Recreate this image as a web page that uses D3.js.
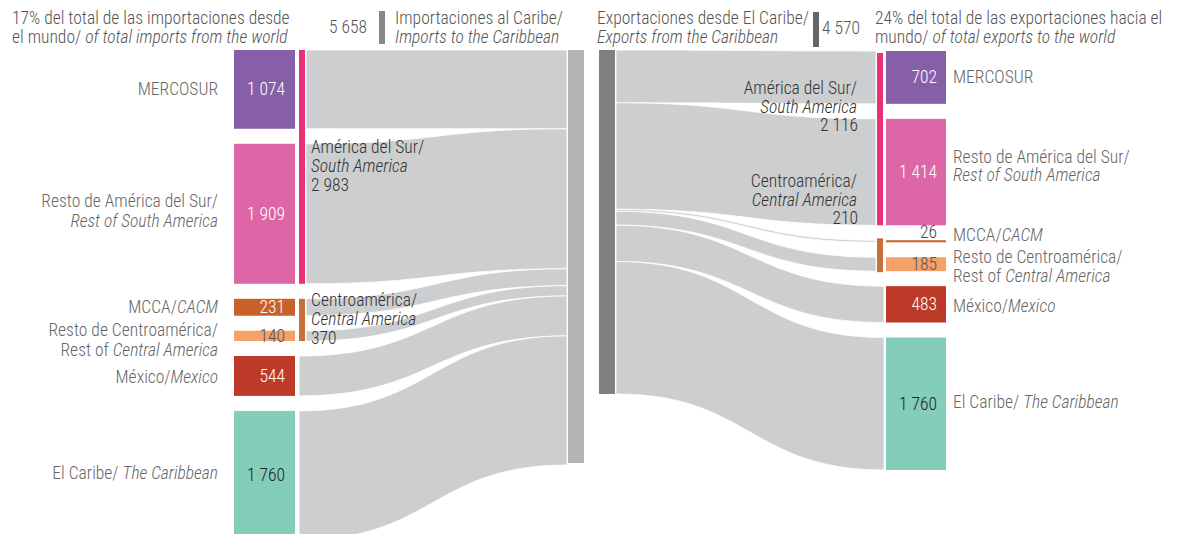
<!DOCTYPE html>
<html>
<head>
<meta charset="utf-8">
<script src="https://cdn.jsdelivr.net/npm/d3@7"></script>
<style>
  html, body { margin: 0; padding: 0; background: #fff; }
  svg { display: block; }
  text { font-family: "Roboto Condensed", "Liberation Sans Narrow", "Arial Narrow", Roboto, sans-serif; font-weight: 300; }
</style>
</head>
<body>
<svg id="chart" width="1180" height="534"></svg>
<script>
// ---------------- DATA ----------------
const categories = ["MERCOSUR", "Resto de América del Sur", "MCCA", "Resto de Centroamérica", "México", "El Caribe"];
const importValues = [1074, 1909, 231, 140, 544, 1760];
const exportValues = [702, 1414, 26, 185, 483, 1760];
const categoryGroup = [0, 0, 1, 1, null, null];
const groupNames = ["América del Sur", "Centroamérica"];
const importGroupTotals = [2983, 370];
const exportGroupTotals = [2116, 210];
const importTotal = 5658;
const exportTotal = 4570;

// label lines (segments: [text, italic])
const categoryLabels = [
  [[["MERCOSUR", false]]],
  [[["Resto de América del Sur/", false]], [["Rest of South America", true]]],
  [[["MCCA/", false], ["CACM", true]]],
  [[["Resto de Centroamérica/", false]], [["Rest of ", false], ["Central America", true]]],
  [[["México/", false], ["Mexico", true]]],
  [[["El Caribe/ ", false], ["The Caribbean", true]]]
];
const groupLabels = [
  [["América del Sur/", false], ["South America", true]],
  [["Centroamérica/", false], ["Central America", true]]
];

// ---------------- STYLE ----------------
const nodeColors = ["#875ea8", "#dd67a6", "#c9612a", "#f6a06a", "#bd3a28", "#84cdb8"];
const groupColors = ["#e8317a", "#c8703a"];
const importValueColors = ["#fff", "#fff", "#fff", "#555", "#fff", "#222"];
const exportValueColors = ["#fff", "#fff", "#444", "#555", "#fff", "#222"];
const linkColor = "#cdcecf";
const labelColor = "#666";
const headColor = "#555";
const groupTextColor = "#333";
const FS = 17.5;
// label placement relative to node centre: [first-line offset, line spacing]
const impLabelPos = [[0, 20], [-13, 20], [0, 20], [-6, 20], [1, 20], [-2, 20]];
const expLabelPos = [[0, 18], [-15, 18], [-6, 19], [-7, 19], [2, 19], [-2, 19]];

const fmt = d3.formatLocale({decimal: ",", thousands: " ", grouping: [3], currency: ["", ""]}).format(",d");

const svg = d3.select("#chart");
const gap = 15;
const topY = 50;

const yImp = d3.scaleLinear().domain([0, importTotal]).range([0, 415]);
const yExp = d3.scaleLinear().domain([0, exportTotal]).range([0, 344]);

function layout(values, scale, start) {
  let y = start;
  return values.map((v, i) => {
    const h = scale(v);
    const n = {y0: y, y1: y + h, v, i};
    y += h + gap;
    return n;
  });
}
const impNodes = layout(importValues, yImp, topY);
const expNodes = layout(exportValues, yExp, topY + 1);

function band(x0, a0, b0, x1, a1, b1) {
  const xm = (x0 + x1) / 2;
  return `M${x0},${a0}C${xm},${a0} ${xm},${a1} ${x1},${a1}L${x1},${b1}C${xm},${b1} ${xm},${b0} ${x0},${b0}Z`;
}

function addText(parent, x, y, segs, opts) {
  const t = parent.append("text")
    .attr("x", x).attr("y", y)
    .attr("text-anchor", opts.anchor || "start")
    .attr("font-size", opts.size || FS)
    .attr("fill", opts.color || labelColor);
  segs.forEach(([s, it]) => {
    t.append("tspan").attr("font-style", it ? "italic" : "normal").text(s);
  });
  return t;
}

// ---------------- IMPORT SIDE ----------------
const impNodeX = 234, impNodeW = 61;
const impGroupX = 299, groupW = 6;
const impBarX = 568, impBarW = 16;

let acc = topY;
const gImpLinks = svg.append("g");
impNodes.forEach((n, i) => {
  const h = n.y1 - n.y0;
  const x0 = categoryGroup[i] === null ? impGroupX : impGroupX + groupW + 1;
  gImpLinks.append("path")
    .attr("d", band(x0, n.y0, n.y1, impBarX - 1, acc, acc + h))
    .attr("fill", linkColor).attr("stroke", "#fff").attr("stroke-width", 0.8);
  acc += h;
});

svg.append("rect").attr("x", impBarX).attr("y", topY).attr("width", impBarW)
  .attr("height", yImp(importTotal) - 2).attr("fill", "#b5b5b5");

impNodes.forEach((n, i) => {
  svg.append("rect").attr("x", impNodeX).attr("y", n.y0).attr("width", impNodeW)
    .attr("height", n.y1 - n.y0).attr("fill", nodeColors[i]);
  const cy = (n.y0 + n.y1) / 2;
  addText(svg, 285, cy + 6, [[fmt(importValues[i]), false]], {anchor: "end", color: importValueColors[i]});
  const [off, sp] = impLabelPos[i];
  categoryLabels[i].forEach((ln, k) => {
    addText(svg, 218, cy + off + 6 + k * sp, ln, {anchor: "end", color: labelColor});
  });
});

[0, 1].forEach(g => {
  const members = impNodes.filter((n, i) => categoryGroup[i] === g);
  const y0 = d3.min(members, d => d.y0), y1 = d3.max(members, d => d.y1);
  svg.append("rect").attr("x", impGroupX).attr("y", y0).attr("width", groupW)
    .attr("height", y1 - y0).attr("fill", groupColors[g]);
  const by = g === 0 ? y0 + 103 : y0 + 7;
  addText(svg, 311, by, [groupLabels[g][0]], {color: groupTextColor});
  addText(svg, 311, by + 19, [groupLabels[g][1]], {color: groupTextColor});
  addText(svg, 311, by + 38, [[fmt(importGroupTotals[g]), false]], {color: groupTextColor});
});

// ---------------- EXPORT SIDE ----------------
const expBarX = 599, expBarW = 16;
const expGroupX = 877;
const expNodeX = 886, expNodeW = 60;

acc = topY;
const gExpLinks = svg.append("g");
expNodes.forEach((n, i) => {
  const h = n.y1 - n.y0;
  const x1 = categoryGroup[i] === null ? expNodeX - 2 : expGroupX - 1;
  gExpLinks.append("path")
    .attr("d", band(expBarX + expBarW + 1, acc, acc + h, x1, n.y0, n.y1))
    .attr("fill", linkColor).attr("stroke", "#fff").attr("stroke-width", 0.8);
  acc += h;
});

svg.append("rect").attr("x", expBarX).attr("y", topY).attr("width", expBarW)
  .attr("height", yExp(exportTotal)).attr("fill", "#808080");

expNodes.forEach((n, i) => {
  const h = Math.max(2, n.y1 - n.y0);
  svg.append("rect").attr("x", expNodeX).attr("y", n.y0).attr("width", expNodeW)
    .attr("height", h).attr("fill", nodeColors[i]);
  const cy = (n.y0 + n.y1) / 2;
  const vy = h < 5 ? n.y0 - 2 : cy + 6;
  addText(svg, 937, vy, [[fmt(exportValues[i]), false]], {anchor: "end", color: exportValueColors[i]});
  const [off, sp] = expLabelPos[i];
  categoryLabels[i].forEach((ln, k) => {
    addText(svg, 953, cy + off + 6 + k * sp, ln, {anchor: "start", color: labelColor});
  });
});

[0, 1].forEach(g => {
  const members = expNodes.filter((n, i) => categoryGroup[i] === g);
  const y0 = d3.min(members, d => d.y0), y1 = d3.max(members, d => d.y1);
  svg.append("rect").attr("x", expGroupX).attr("y", g === 0 ? y0 + 2 : y0 - 2).attr("width", groupW)
    .attr("height", y1 - y0 + (g === 0 ? -2 : 3)).attr("fill", groupColors[g]);
});
const expGroupBase = [94, 187];
[0, 1].forEach(g => {
  const by = expGroupBase[g];
  addText(svg, 857, by, [groupLabels[g][0]], {anchor: "end", color: groupTextColor});
  addText(svg, 857, by + 18.5, [groupLabels[g][1]], {anchor: "end", color: groupTextColor});
  addText(svg, 858, by + 37, [[fmt(exportGroupTotals[g]), false]], {anchor: "end", color: groupTextColor});
});

// ---------------- HEADERS ----------------
addText(svg, 12, 24, [["17% del total de las importaciones desde", false]], {color: headColor});
addText(svg, 12, 43, [["el mundo/ ", false], ["of total imports from the world", true]], {color: headColor});

addText(svg, 367, 33, [[fmt(importTotal), false]], {anchor: "end", color: headColor});
svg.append("rect").attr("x", 379).attr("y", 11).attr("width", 6).attr("height", 33).attr("fill", "#888");
addText(svg, 395, 24, [["Importaciones al Caribe/", false]], {color: headColor});
addText(svg, 395, 43, [["Imports to the Caribbean", true]], {color: headColor});

addText(svg, 597, 24, [["Exportaciones desde El Caribe/", false]], {color: headColor});
addText(svg, 597, 43, [["Exports from the Caribbean", true]], {color: headColor});
svg.append("rect").attr("x", 813).attr("y", 12).attr("width", 6).attr("height", 35).attr("fill", "#666");
addText(svg, 822, 34, [[fmt(exportTotal), false]], {color: headColor});
addText(svg, 875, 24, [["24% del total de las exportaciones hacia el", false]], {color: headColor});
addText(svg, 875, 43, [["mundo/ ", false], ["of total exports to the world", true]], {color: headColor});
</script>
</body>
</html>
